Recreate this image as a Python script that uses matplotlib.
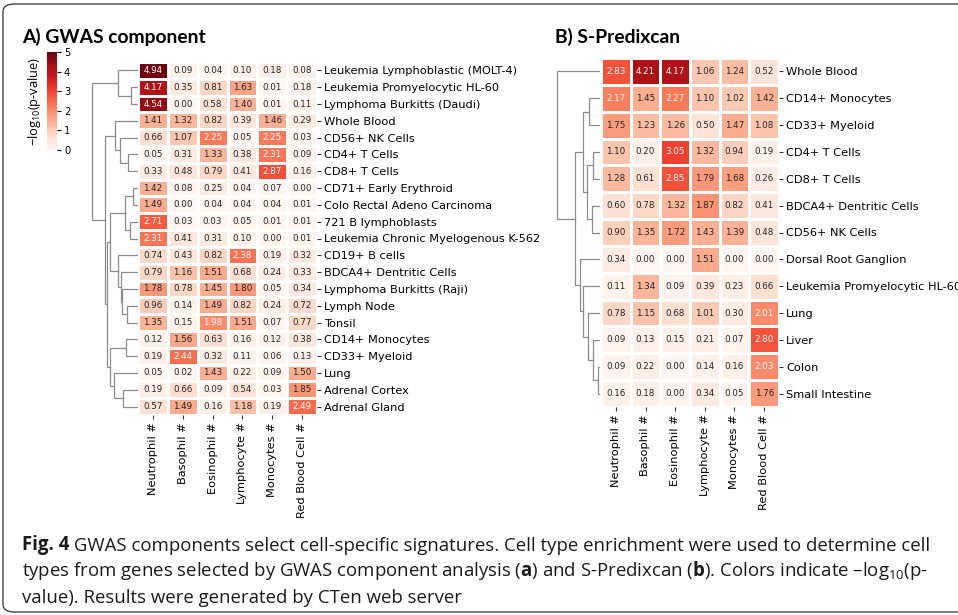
import matplotlib
matplotlib.use("Agg")
import matplotlib.pyplot as plt
from matplotlib.text import Annotation
import numpy as np
import seaborn as sns
from matplotlib.patches import FancyBboxPatch

# ---------------- data ----------------
cols = ["Neutrophil #", "Basophil #", "Eosinophil #", "Lymphocyte #",
        "Monocytes #", "Red Blood Cell #"]

rows_A = ["Leukemia Lymphoblastic (MOLT-4)", "Leukemia Promyelocytic HL-60",
          "Lymphoma Burkitts (Daudi)", "Whole Blood", "CD56+ NK Cells",
          "CD4+ T Cells", "CD8+ T Cells", "CD71+ Early Erythroid",
          "Colo Rectal Adeno Carcinoma", "721 B lymphoblasts",
          "Leukemia Chronic Myelogenous K-562", "CD19+ B cells",
          "BDCA4+ Dentritic Cells", "Lymphoma Burkitts (Raji)", "Lymph Node",
          "Tonsil", "CD14+ Monocytes", "CD33+ Myeloid", "Lung",
          "Adrenal Cortex", "Adrenal Gland"]

neutrophil_A = [4.94, 4.17, 4.54, 1.41, 0.66, 0.05, 0.33, 1.42, 1.49, 2.71, 2.31,
                0.74, 0.79, 1.78, 0.96, 1.35, 0.12, 0.19, 0.05, 0.19, 0.57]
basophil_A = [0.09, 0.35, 0.00, 1.32, 1.07, 0.31, 0.48, 0.08, 0.00, 0.03, 0.41,
              0.43, 1.16, 0.78, 0.14, 0.15, 1.56, 2.44, 0.02, 0.66, 1.49]
eosinophil_A = [0.04, 0.81, 0.58, 0.82, 2.25, 1.33, 0.79, 0.25, 0.04, 0.03, 0.31,
                0.82, 1.51, 1.45, 1.49, 1.98, 0.63, 0.32, 1.43, 0.09, 0.16]
lymphocyte_A = [0.10, 1.63, 1.40, 0.39, 0.05, 0.38, 0.41, 0.04, 0.04, 0.05, 0.10,
                2.38, 0.68, 1.80, 0.82, 1.51, 0.16, 0.11, 0.22, 0.54, 1.18]
monocytes_A = [0.18, 0.01, 0.01, 1.46, 2.25, 2.31, 2.87, 0.07, 0.04, 0.01, 0.00,
               0.19, 0.24, 0.05, 0.24, 0.07, 0.12, 0.06, 0.09, 0.03, 0.19]
rbc_A = [0.08, 0.18, 0.11, 0.29, 0.03, 0.09, 0.16, 0.00, 0.01, 0.01, 0.01,
         0.32, 0.33, 0.34, 0.72, 0.77, 0.38, 0.13, 1.50, 1.85, 2.49]

rows_B = ["Whole Blood", "CD14+ Monocytes", "CD33+ Myeloid", "CD4+ T Cells",
          "CD8+ T Cells", "BDCA4+ Dentritic Cells", "CD56+ NK Cells",
          "Dorsal Root Ganglion", "Leukemia Promyelocytic HL-60", "Lung",
          "Liver", "Colon", "Small Intestine"]

neutrophil_B = [2.83, 2.17, 1.75, 1.10, 1.28, 0.60, 0.90, 0.34, 0.11, 0.78, 0.09, 0.09, 0.16]
basophil_B = [4.21, 1.45, 1.23, 0.20, 0.61, 0.78, 1.35, 0.00, 1.34, 1.15, 0.13, 0.22, 0.18]
eosinophil_B = [4.17, 2.27, 1.26, 3.05, 2.85, 1.32, 1.72, 0.00, 0.09, 0.68, 0.15, 0.00, 0.00]
lymphocyte_B = [1.06, 1.10, 0.50, 1.32, 1.79, 1.87, 1.43, 1.51, 0.39, 1.01, 0.21, 0.14, 0.34]
monocytes_B = [1.24, 1.02, 1.47, 0.94, 1.68, 0.82, 1.39, 0.00, 0.23, 0.30, 0.07, 0.16, 0.05]
rbc_B = [0.52, 1.42, 1.08, 0.19, 0.26, 0.41, 0.48, 0.00, 0.66, 2.01, 2.80, 2.03, 1.76]

# dendrogram trees: (merge height, child, child); leaves are row indices
tree_A = (46, (20, 0, (7, 1, 2)),
          (33, (23, 3, (18, 4, (10, 5, 6))),
           (31, (28, (13, (5, 7, 8), (8, 9, 10)),
                 (20, 11, (17, 12, (16, 13, (11, 14, 15))))),
            (28, (12, 16, 17), (24, 18, (15, 19, 20))))))
tree_B = (43, 0,
          (25, (17, (11, 1, 2), (13, (7, 3, 4), (8, 5, 6))),
           (20, 7, (17, 8, (12, 9, (7, 10, (2, 11, 12)))))))

cbar_ticks = [0, 1, 2, 3, 4, 5]

# ---------------- style ----------------
CAPFONT = 'Open Sans'
plt.rcParams['mathtext.fontset'] = 'custom'
plt.rcParams['mathtext.rm'] = CAPFONT
plt.rcParams['mathtext.bf'] = CAPFONT + ':bold'
plt.rcParams['mathtext.it'] = CAPFONT + ':italic'

W, H = 958, 615
fig = plt.figure(figsize=(W / 100, H / 100), dpi=100)


def rect(x0, y0, x1, y1):
    return [x0 / W, 1 - y1 / H, (x1 - x0) / W, (y1 - y0) / H]


LBL = 8.2
ANN = 6.3
DCOL = '#8c8c8c'


def draw_tree(ax, tree, n, xmax):
    def rec(node):
        if isinstance(node, int):
            return node + 0.5, 0.0
        h, a, b = node
        ya, ha = rec(a)
        yb, hb = rec(b)
        ax.plot([ha, h, h, hb], [ya, ya, yb, yb], color=DCOL, lw=0.9,
                solid_joinstyle='miter')
        return (ya + yb) / 2, h
    rec(tree)
    ax.set_ylim(n, 0)
    ax.set_xlim(xmax, 0)
    ax.axis('off')


def heat(ax, data, rows, cax=None):
    data = np.array(data).T
    sns.heatmap(data, ax=ax, cmap='Reds', vmin=0, vmax=5, annot=False,
                linewidths=1, linecolor='white', cbar=cax is not None,
                cbar_ax=cax, xticklabels=cols, yticklabels=rows)
    for i in range(data.shape[0]):
        for j in range(data.shape[1]):
            v = data[i, j]
            ax.text(j + 0.5, i + 0.5, f"{v:.2f}", ha='center', va='center',
                    fontsize=ANN, color='white' if v >= 1.9 else '#262626')
    ax.yaxis.tick_right()
    ax.tick_params(axis='y', labelrotation=0, labelsize=LBL, length=3,
                   width=0.8, pad=2, colors='#333333', labelcolor='black')
    ax.tick_params(axis='x', labelrotation=90, labelsize=LBL, length=3,
                   width=0.8, pad=2, colors='#333333', labelcolor='black')


# panel A
axA = fig.add_axes(rect(138, 62, 317, 415))
caxA = fig.add_axes(rect(47, 52, 57, 150))
heat(axA, [neutrophil_A, basophil_A, eosinophil_A, lymphocyte_A, monocytes_A, rbc_A],
     rows_A, caxA)
caxA.set_yticks(cbar_ticks)
caxA.tick_params(labelsize=7.2, length=3, width=0.8, pad=2)
caxA.set_ylabel("−log$_{10}$(p-value)", family='Open Sans', fontsize=9.3, labelpad=3)
caxA.yaxis.set_label_position('left')

dA = fig.add_axes(rect(80, 62, 138, 415))
draw_tree(dA, tree_A, len(rows_A), 58)

# panel B
axB = fig.add_axes(rect(601, 58, 779, 407))
heat(axB, [neutrophil_B, basophil_B, eosinophil_B, lymphocyte_B, monocytes_B, rbc_B],
     rows_B, None)
dB = fig.add_axes(rect(545, 58, 600, 407))
draw_tree(dB, tree_B, len(rows_B), 55)

# titles
fig.text(22 / W, 1 - 43 / H, "A) GWAS component", family='Lato', weight='bold',
         fontsize=13.9, ha='left', va='baseline')
fig.text(555 / W, 1 - 43 / H, "B) S-Predixcan", family='Lato', weight='bold',
         fontsize=13.9, ha='left', va='baseline')

# caption
CAP = 13.4
x0 = 22 / W
fig_lbl = fig.text(x0, 1 - 550 / H, "Fig. 4", family=CAPFONT, weight='bold',
                   fontsize=CAP, ha='left', va='baseline', color='#1a1a1a')
fig.add_artist(Annotation(
    " GWAS components select cell-specific signatures. Cell type enrichment were used to determine cell",
    xy=(1, 0), xycoords=fig_lbl, ha='left', va='bottom', family=CAPFONT,
    fontsize=CAP, color='#1a1a1a'))
cap_rest = [
    r"types from genes selected by GWAS component analysis ($\mathbf{a}$) and S-Predixcan ($\mathbf{b}$). Colors indicate –$\mathrm{log}_{10}$(p-",
    r"value). Results were generated by CTen web server",
]
for k, line in enumerate(cap_rest):
    fig.text(x0, 1 - (550 + 26.5 * (k + 1)) / H, line, family=CAPFONT,
             fontsize=CAP, ha='left', va='baseline', color='#1a1a1a')

# frame
frame = FancyBboxPatch((3 / W, 3 / H), 990 / W, 608 / H,
                       boxstyle="round,pad=0,rounding_size=0.012",
                       transform=fig.transFigure, fill=False,
                       edgecolor='#444444', lw=1.0, clip_on=False)
fig.add_artist(frame)

fig.savefig("out.png", dpi=100)
